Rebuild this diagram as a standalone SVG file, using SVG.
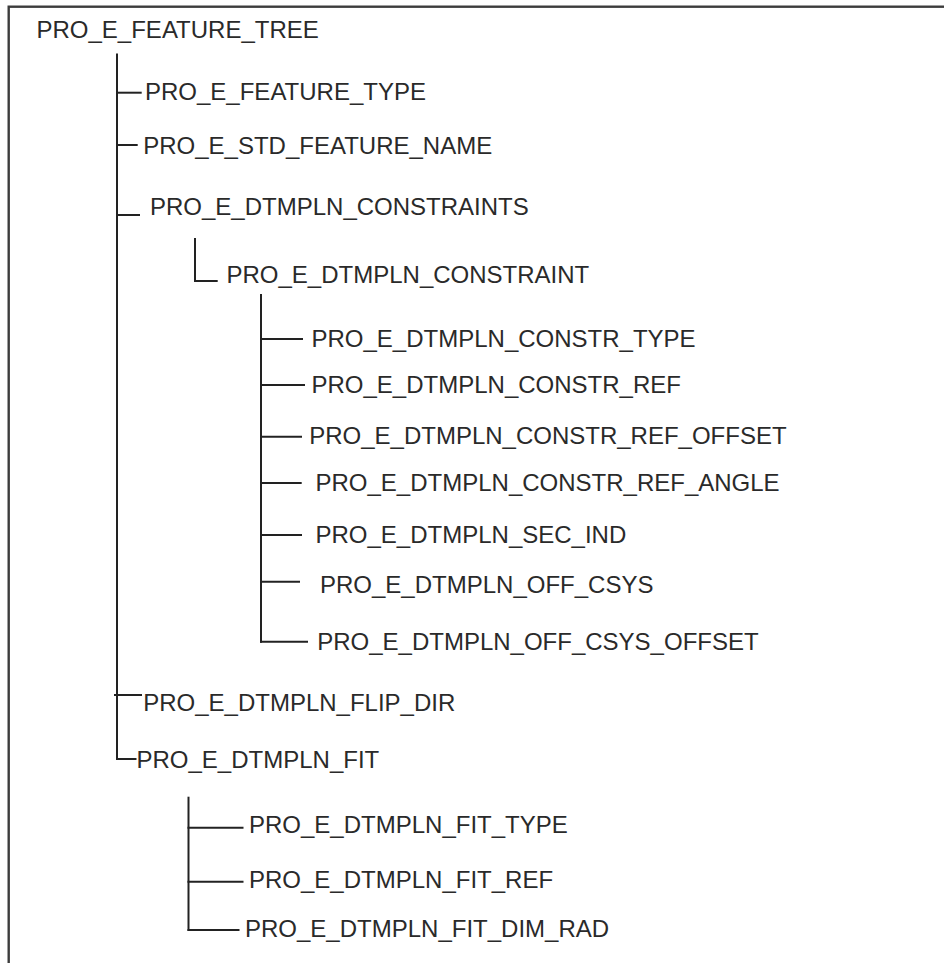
<svg xmlns="http://www.w3.org/2000/svg" width="944" height="963" viewBox="0 0 944 963">
<style>
text{font-family:"Liberation Sans",Arial,sans-serif;font-size:24px;fill:#2a2a2a}
.c line{stroke:#222;stroke-width:2;stroke-linecap:butt}
.frame{fill:none;stroke:#3c3c3c;stroke-width:2.4}
</style>
<rect x="0" y="0" width="944" height="963" fill="#fff"/>
<rect class="frame" x="8.7" y="6.7" width="1000" height="1000"/>
<g class="c" id="connectors">
<line x1="117" y1="53.5" x2="117" y2="760"/>
<line x1="116" y1="92.7" x2="141.7" y2="92.7"/>
<line x1="116" y1="145" x2="137.7" y2="145"/>
<line x1="116" y1="215" x2="140" y2="215"/>
<line x1="114" y1="695" x2="142" y2="695"/>
<line x1="116" y1="759" x2="136.5" y2="759"/>
<line x1="195" y1="238" x2="195" y2="282"/>
<line x1="194" y1="281" x2="217.7" y2="281"/>
<line x1="261" y1="294" x2="261" y2="642.7"/>
<line x1="260" y1="339" x2="303" y2="339"/>
<line x1="260" y1="385" x2="305" y2="385"/>
<line x1="260" y1="436.7" x2="302" y2="436.7"/>
<line x1="260" y1="483" x2="301.7" y2="483"/>
<line x1="260" y1="535" x2="302" y2="535"/>
<line x1="260" y1="581.7" x2="300" y2="581.7"/>
<line x1="260" y1="641.7" x2="308" y2="641.7"/>
<line x1="188.5" y1="796.7" x2="188.5" y2="931"/>
<line x1="187.5" y1="827.7" x2="243.5" y2="827.7"/>
<line x1="187.5" y1="881.7" x2="243.5" y2="881.7"/>
<line x1="187.5" y1="930" x2="239.5" y2="930"/>
</g>
<g id="n-feature-tree"><text x="36.5" y="37.7">PRO_E_FEATURE_TREE</text></g>
<g id="n-feature-type"><text x="145" y="100">PRO_E_FEATURE_TYPE</text></g>
<g id="n-std-feature-name"><text x="143.2" y="154">PRO_E_STD_FEATURE_NAME</text></g>
<g id="n-constraints"><text x="150" y="215">PRO_E_DTMPLN_CONSTRAINTS</text></g>
<g id="n-constraint"><text x="226.5" y="282.7">PRO_E_DTMPLN_CONSTRAINT</text></g>
<g id="n-constr-type"><text x="311.5" y="346.7">PRO_E_DTMPLN_CONSTR_TYPE</text></g>
<g id="n-constr-ref"><text x="311.5" y="393">PRO_E_DTMPLN_CONSTR_REF</text></g>
<g id="n-constr-ref-offset"><text x="309.2" y="444.3">PRO_E_DTMPLN_CONSTR_REF_OFFSET</text></g>
<g id="n-constr-ref-angle"><text x="315.5" y="491">PRO_E_DTMPLN_CONSTR_REF_ANGLE</text></g>
<g id="n-sec-ind"><text x="315.5" y="543">PRO_E_DTMPLN_SEC_IND</text></g>
<g id="n-off-csys"><text x="320" y="593">PRO_E_DTMPLN_OFF_CSYS</text></g>
<g id="n-off-csys-offset"><text x="317.2" y="650">PRO_E_DTMPLN_OFF_CSYS_OFFSET</text></g>
<g id="n-flip-dir"><text x="143.2" y="710.7">PRO_E_DTMPLN_FLIP_DIR</text></g>
<g id="n-fit"><text x="136.5" y="768.3">PRO_E_DTMPLN_FIT</text></g>
<g id="n-fit-type"><text x="249" y="832.7">PRO_E_DTMPLN_FIT_TYPE</text></g>
<g id="n-fit-ref"><text x="249" y="888.3">PRO_E_DTMPLN_FIT_REF</text></g>
<g id="n-fit-dim-rad"><text x="245" y="936.7">PRO_E_DTMPLN_FIT_DIM_RAD</text></g>
</svg>
